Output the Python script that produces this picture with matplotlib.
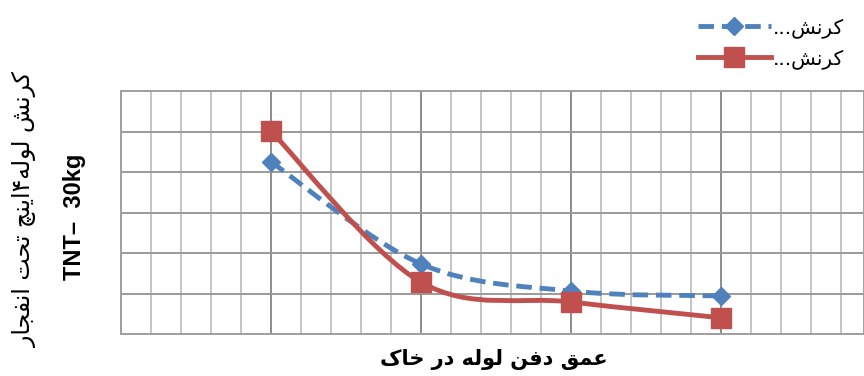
import matplotlib
matplotlib.use("Agg")
import matplotlib.pyplot as plt
from matplotlib.path import Path
from matplotlib.patches import PathPatch
from matplotlib.lines import Line2D
from matplotlib.ticker import MultipleLocator
import numpy as np

# Data (burial depth vs. pipe strain, no scale printed)
depths = [0.5, 1.0, 1.5, 2.0]
strain_a = [4.25, 1.73, 1.06, 0.94]   # blue dashed, diamonds
strain_b = [5.01, 1.28, 0.79, 0.40]   # red solid, squares

# Persian strings written in visual order with presentation forms
KORNESH = "\uFEB6\uFEE7\uFEAE\uFB90"
LULEH = "\uFEEA\uFEDF\uFEEE\uFEDF"
legend_labels = ["..." + KORNESH, "..." + KORNESH]
ylabel_text = ("\uFEAD\uFE8E\uFEA0\uFED4\uFEE7\uFE8D" + " " +
               "\uFE96\uFEA4\uFE97" + " " +
               "\uFB7B\uFEE8\uFBFE\uFE8D" + "\u06F4" + LULEH + " " + KORNESH)
ylabel_text2 = "TNT\u2013  30kg"
xlabel_text = ("\uFB8E\uFE8E\uFEA7" + " " + "\uFEAD\uFEA9" + " " + LULEH + " " +
               "\uFEE6\uFED3\uFEA9" + " " + "\uFED6\uFEE4\uFECB")

BLUE = "#4F81BD"
RED = "#C0504D"


def smooth_path(xs, ys):
    """
    Excel style smoothed line: cubic bezier through the points.
    """
    pts = np.column_stack([xs, ys]).astype(float)
    ext = np.vstack([pts[0], pts, pts[-1]])
    verts = [tuple(pts[0])]
    codes = [Path.MOVETO]
    for i in range(len(pts) - 1):
        p0, p1, p2, p3 = ext[i], ext[i + 1], ext[i + 2], ext[i + 3]
        c1 = p1 + (p2 - p0) / 6.0
        c2 = p2 - (p3 - p1) / 6.0
        verts += [tuple(c1), tuple(c2), tuple(p2)]
        codes += [Path.CURVE4] * 3
    return Path(verts, codes)


fig = plt.figure(figsize=(8.64, 3.76), dpi=100)
ax = fig.add_axes([121 / 864, 42 / 376, 743 / 864, 243 / 376])
ax.set_xlim(0, 743 / 300)
ax.set_ylim(0, 6)

ax.xaxis.set_major_locator(MultipleLocator(0.5))
ax.xaxis.set_minor_locator(MultipleLocator(0.1))
ax.yaxis.set_major_locator(MultipleLocator(1))
ax.grid(which="minor", axis="x", color="#c4c4c4", linewidth=1.4)
ax.grid(which="major", axis="x", color="#8c8c8c", linewidth=1.4)
ax.grid(which="major", axis="y", color="#9a9a9a", linewidth=1.4)
ax.set_axisbelow(True)
ax.tick_params(which="both", length=0, labelbottom=False, labelleft=False)
for s in ax.spines.values():
    s.set_color("#a0a0a0")
    s.set_linewidth(1.4)

ax.add_patch(PathPatch(smooth_path(depths, strain_a), fill=False,
                       edgecolor=BLUE, linewidth=3.5,
                       linestyle=(0, (3.2, 1.6)), zorder=3))
ax.plot(depths, strain_a, linestyle="none", marker="D", markersize=9.5,
        color=BLUE, zorder=4)
ax.add_patch(PathPatch(smooth_path(depths, strain_b), fill=False,
                       edgecolor=RED, linewidth=3.5, zorder=3))
ax.plot(depths, strain_b, linestyle="none", marker="s", markersize=15,
        color=RED, zorder=5)

handles = [Line2D([], [], color=BLUE, linewidth=3.5, linestyle=(0, (3.2, 1.6)),
                  marker="D", markersize=9.5),
           Line2D([], [], color=RED, linewidth=3.5, marker="s", markersize=15)]
fig.legend(handles, legend_labels, loc="upper right",
           bbox_to_anchor=(862 / 864, 1.0), frameon=False,
           handlelength=3.6, handletextpad=0.1, labelspacing=0.55,
           prop={"family": "DejaVu Sans", "size": 14.5})

fig.text(25 / 864, 1 - 210 / 376, ylabel_text, rotation=90, ha="center",
         va="center", fontsize=17, family="DejaVu Sans")
fig.text(75 / 864, 1 - 217 / 376, ylabel_text2, rotation=90, ha="center",
         va="center", fontsize=17, fontweight="bold", family="Liberation Sans")
fig.text(494 / 864, 1 - 360 / 376, xlabel_text, ha="center", va="center",
         fontsize=15, fontweight="bold", family="DejaVu Sans")

fig.savefig("out.png", dpi=100)
